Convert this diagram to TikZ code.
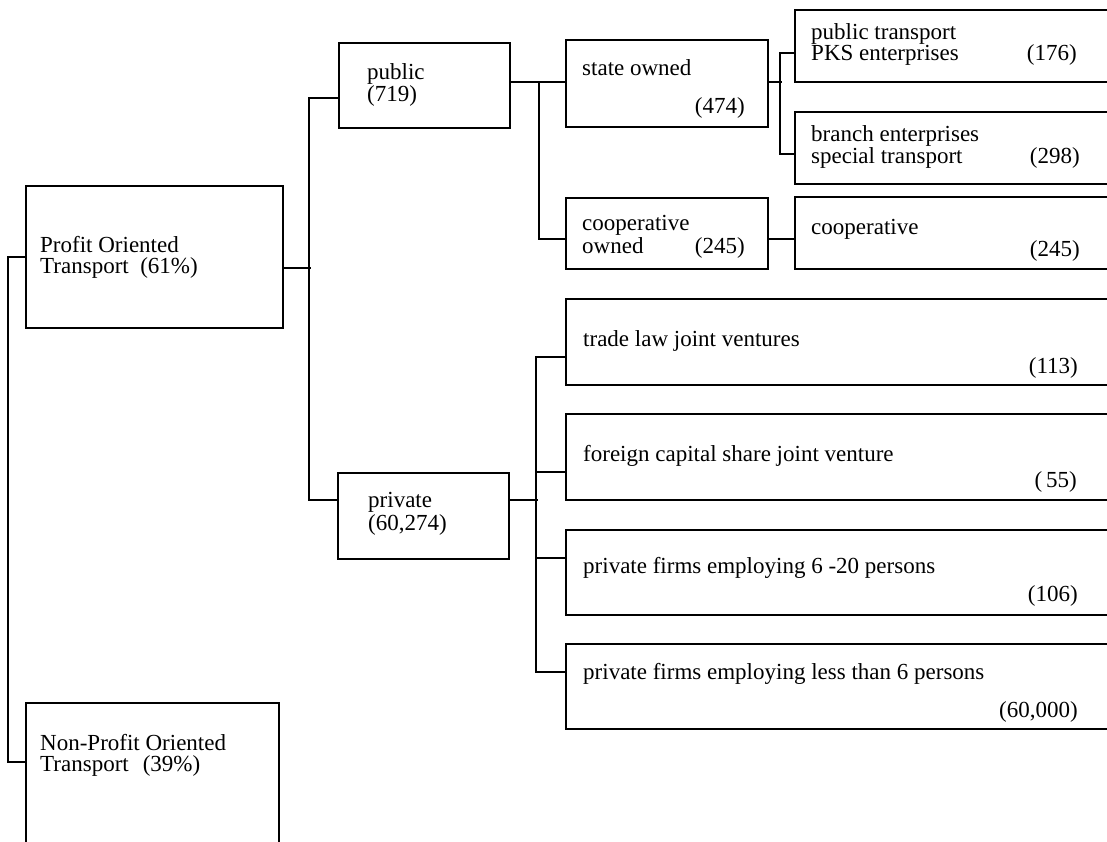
\documentclass[tikz,border=0pt]{standalone}
\usepackage{fontspec}
\setmainfont{Liberation Serif}
\usetikzlibrary{calc}
\begin{document}
\begin{tikzpicture}[x=1pt,y=-1pt,
  box/.style={draw, line width=2pt, inner sep=0pt, anchor=north west},
  conn/.style={draw, line width=2pt, line join=miter},
  txt/.style={inner sep=0pt, anchor=base west, align=left, font=\fontsize{23}{22}\selectfont},
  num/.style={inner sep=0pt, anchor=base east, font=\fontsize{23}{22}\selectfont}]
\clip (0,0) rectangle (1107,841);
\fill[white] (0,0) rectangle (1107,841);

% boxes
\node[box, minimum width=257pt, minimum height=142pt] (profit) at (25,185) {};
\node[box, minimum width=253pt, minimum height=180pt] (nonprofit) at (25,702) {};
\node[box, minimum width=171pt, minimum height=85pt] (public) at (338,42) {};
\node[box, minimum width=171pt, minimum height=86pt] (private) at (337,472) {};
\node[box, minimum width=202pt, minimum height=87pt] (state) at (565,39) {};
\node[box, minimum width=202pt, minimum height=71pt] (coopown) at (565,197) {};
\node[box, minimum width=340pt, minimum height=72pt] (pubtr) at (794,9) {};
\node[box, minimum width=340pt, minimum height=72pt] (branch) at (794,111) {};
\node[box, minimum width=340pt, minimum height=72pt] (coop) at (794,196) {};
\node[box, minimum width=570pt, minimum height=86pt] (trade) at (565,298) {};
\node[box, minimum width=570pt, minimum height=86pt] (foreign) at (565,413) {};
\node[box, minimum width=570pt, minimum height=85pt] (six) at (565,529) {};
\node[box, minimum width=570pt, minimum height=85pt] (lt6) at (565,643) {};

% connectors
\draw[conn] (profit.west) -- ++(-17,0) |- ($(nonprofit.north west)+(0,60)$);
\draw[conn] ($(profit.north east)+(0,83)$) -- ++(27,0);
\draw[conn] ($(public.north west)+(0,56)$) -- ++(-29,0) |- ($(private.north west)+(0,28)$);
\draw[conn] ($(public.north east)+(0,40)$) -- ($(state.north west)+(0,43)$);
\draw[conn] ($(public.north east)+(28,40)$) |- ($(coopown.north west)+(0,42)$);
\draw[conn] ($(state.north east)+(0,43)$) -- ++(13,0);
\draw[conn] ($(pubtr.north west)+(0,44)$) -- ++(-14,0) |- ($(branch.north west)+(0,43)$);
\draw[conn] ($(coopown.north east)+(0,42)$) -- ($(coop.north west)+(0,43)$);
\draw[conn] ($(private.north east)+(0,28)$) -- ++(28,0);
\draw[conn] ($(trade.north west)+(0,59)$) -- ++(-29,0) |- ($(lt6.north west)+(0,29)$);
\draw[conn] ($(foreign.north west)+(0,59)$) -- ++(-29,0);
\draw[conn] ($(six.north west)+(0,29)$) -- ++(-29,0);

% texts (multi-line nodes: anchor at baseline of last line)
\node[txt] (tprofit) at (40,273) {Profit Oriented\\[-1pt]Transport\ \ (61\%)};
\node[txt] (tnonprofit) at (40,771) {Non-Profit Oriented\\[-1pt]Transport\hspace{14pt}(39\%)};
\node[txt] (tpublic) at (367,101) {public\\(719)};
\node[txt] (tprivate) at (368,530) {private\\[1pt](60,274)};
\node[txt] (tstate) at (582,75) {state owned};
\node[num] (nstate) at (745,113) {(474)};
\node[txt] (tcoopown) at (582,253) {cooperative\\[1pt]owned};
\node[num] (ncoopown) at (745,253) {(245)};
\node[txt] (tpubtr) at (811,60) {public transport\\[-1pt]PKS enterprises};
\node[num] (npubtr) at (1077,60) {(176)};
\node[txt] (tbranch) at (811,163) {branch enterprises\\special transport};
\node[num] (nbranch) at (1080,163) {(298)};
\node[txt] (tcoop) at (811,234) {cooperative};
\node[num] (ncoop) at (1080,256) {(245)};
\node[txt] (ttrade) at (583,346) {trade law joint ventures};
\node[num] (ntrade) at (1078,373) {(113)};
\node[txt] (tforeign) at (583,461) {foreign capital share joint venture};
\node[num] (nforeign) at (1077,487) {(\,55)};
\node[txt] (tsix) at (583,573) {private firms employing 6 -20 persons};
\node[num] (nsix) at (1078,601) {(106)};
\node[txt] (tlt6) at (583,679) {private firms employing less than 6 persons};
\node[num] (nlt6) at (1078,717) {(60,000)};
\end{tikzpicture}
\end{document}
